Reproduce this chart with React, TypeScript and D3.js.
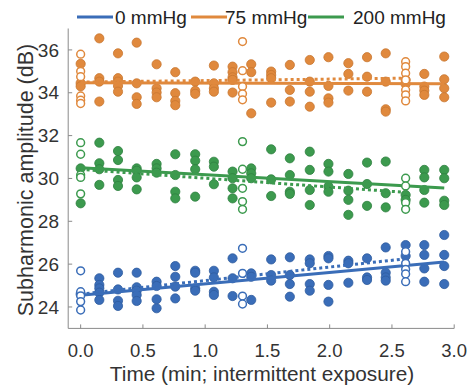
import React from 'react'
import * as d3 from 'd3'

// column times (min) for the filled points and the open (rest) points
const filledTimes = [0, 0.15, 0.3, 0.45, 0.61, 0.76, 0.92, 1.07, 1.22, 1.37, 1.53, 1.68, 1.84, 1.99, 2.15, 2.3, 2.45, 2.61, 2.76, 2.92]
const openTimes = [0, 1.3, 2.61]

const seriesNames = ['0 mmHg', '75 mmHg', '200 mmHg']
const seriesColors = ['#3a6db8', '#e0893d', '#3c9a4e']
const seriesEdges = ['#2f5c9e', '#c87630', '#2f8040']

const filled0 = [
  [24.6],
  [25.34, 25.03, 24.87, 24.67, 24.33],
  [25.6, 24.82, 24.29, 24.05],
  [25.6, 24.92, 24.76, 24.56, 24.28],
  [25.18, 24.98, 24.36, 23.94],
  [25.91, 25.41, 24.95, 24.4],
  [25.69, 25.6, 24.87, 24.76],
  [25.69, 25.38, 24.71, 24.56],
  [26.27, 25.34, 24.51],
  [25.57, 25.41, 24.33],
  [26.22, 25.49, 25.23],
  [26.32, 25.49, 25.07, 24.48],
  [26.22, 26.04, 25.07, 24.76],
  [26.38, 26.27, 25.03, 24.25],
  [26.16, 26.04, 25.13],
  [26.27, 25.38, 25.26],
  [26.78, 25.6, 25.38, 25.23],
  [26.89, 26.38],
  [26.89, 26.43, 25.8, 25.18],
  [27.36, 26.43, 25.91, 25.07],
]
const open0 = [
  [25.69, 24.71, 24.52, 24.25, 23.86],
  [26.74, 25.57, 24.51, 24.14],
  [26.58, 26.04, 25.76, 25.54, 25.18],
]

const filled75 = [
  [35.35, 34.45, 34.3],
  [36.54, 34.68, 34.52, 33.59],
  [35.84, 34.68, 34.52, 34.32, 34.05],
  [36.34, 34.44, 33.79, 33.48],
  [35.33, 34.21, 34.01, 33.79],
  [34.96, 33.98, 33.62, 33.42],
  [34.52, 34.09, 33.95],
  [35.27, 34.44, 34.21, 34.05],
  [35.22, 34.96, 34.72, 34.6, 34.01],
  [35.33, 34.96, 33.04],
  [34.99, 34.83, 34.68, 33.54],
  [35.3, 34.13, 33.59],
  [35.53, 34.52, 34.05, 33.35],
  [35.66, 34.32, 33.74, 33.54],
  [35.38, 34.88, 34.1],
  [35.66, 34.75, 34.05],
  [35.84, 34.52, 33.23, 33.12],
  [34.41, 34.6],
  [34.88, 34.29, 34.1, 33.9],
  [35.69, 34.63, 34.21, 33.79],
]
const open75 = [
  [35.8, 35.0, 34.75, 33.85, 33.65, 33.5],
  [36.39, 35.03, 34.29, 33.95, 33.67],
  [35.45, 35.22, 34.91, 34.6, 34.13, 33.9, 33.62],
]

const filled200 = [
  [30.47, 28.84],
  [31.67, 30.71, 30.43, 29.7],
  [31.28, 30.86, 29.93, 29.65],
  [30.47, 30.36, 30.05, 29.49],
  [30.68, 30.47, 30.27],
  [31.13, 30.16, 29.38, 29.07],
  [31.13, 30.83, 30.43, 29.15],
  [30.78, 30.55, 29.73],
  [30.32, 30.01, 29.54, 29.07],
  [30.47, 30.24, 30.01],
  [31.36, 29.96, 29.18],
  [30.94, 30.16, 29.38, 29.28],
  [31.25, 30.4, 29.46, 28.76],
  [30.68, 30.32, 29.62, 29.38],
  [30.21, 29.43, 29.0, 28.3],
  [30.74, 29.74, 28.72],
  [30.79, 29.31, 28.65],
  [29.23, 29.0],
  [30.4, 30.05, 29.46, 28.87],
  [30.4, 30.01, 28.96, 28.76],
]
const open200 = [
  [31.67, 31.13, 30.16, 30.05, 29.28],
  [31.72, 30.43, 29.54, 28.92, 28.56],
  [30.01, 29.65, 28.87, 28.56],
]

// fit lines: [start, end] values; solid spans filled times, dotted spans open times
const solidFits = [[24.55, 26.1], [34.47, 34.42], [30.5, 29.55]]
const dottedFits = [[24.6, 26.25], [34.5, 34.68], [30.42, 29.35]]

const xTicks = [0, 0.5, 1, 1.5, 2, 2.5, 3]
const yTicks = [24, 26, 28, 30, 32, 34, 36]

const filledAll = [filled0, filled75, filled200]
const openAll = [open0, open75, open200]

const FONT = '"Liberation Sans", Arial, sans-serif'

export default function App() {
  const width = 471
  const height = 392
  const x = d3.scaleLinear().domain([-0.1, 3.0]).range([68.2, 454.2])
  const y = d3.scaleLinear().domain([23, 37]).range([328.4, 28.5])
  const axisColor = '#8a8a8a'
  const textColor = '#333'

  const line = d3
    .line<[number, number]>()
    .x(d => x(d[0]))
    .y(d => y(d[1]))

  const tMin = filledTimes[0]
  const tMax = filledTimes[filledTimes.length - 1]
  const oMin = openTimes[0]
  const oMax = openTimes[openTimes.length - 1]

  const legendLineX = [77, 191, 308]
  const legendTextX = [115, 225, 353]

  return (
    <div style={{ position: 'absolute', left: 0, top: 0 }}>
      <svg width={width} height={height} style={{ display: 'block', background: '#fff' }}>
        {/* axes */}
        <line x1={x(-0.1)} x2={x(-0.1)} y1={y(37)} y2={y(23)} stroke={axisColor} strokeWidth={1} />
        <line x1={x(-0.1)} x2={x(3)} y1={y(23)} y2={y(23)} stroke={axisColor} strokeWidth={1} />
        {yTicks.map(t => (
          <g key={'y' + t}>
            <line x1={x(-0.1)} x2={x(-0.1) + 4} y1={y(t)} y2={y(t)} stroke={axisColor} />
            <text x={59} y={y(t)} dy="0.35em" textAnchor="end" fontSize={19} fontFamily={FONT} fill={textColor}>
              {t}
            </text>
          </g>
        ))}
        {xTicks.map(t => (
          <g key={'x' + t}>
            <line x1={x(t)} x2={x(t)} y1={y(23)} y2={y(23) - 4} stroke={axisColor} />
            <text x={x(t)} y={357} textAnchor="middle" fontSize={18.5} fontFamily={FONT} fill={textColor}>
              {d3.format('.1f')(t)}
            </text>
          </g>
        ))}
        <text x={262} y={381} textAnchor="middle" fontSize={20.8} fontFamily={FONT} fill={textColor}>
          Time (min; intermittent exposure)
        </text>
        <text
          transform={`translate(33, 180) rotate(-90)`}
          textAnchor="middle"
          fontSize={21.5}
          fontFamily={FONT}
          fill={textColor}
        >
          Subharmonic amplitude (dB)
        </text>

        {/* filled points */}
        {filledAll.map((cols, si) =>
          cols.map((vals, ci) =>
            vals.map((v, k) => (
              <circle
                key={`f${si}-${ci}-${k}`}
                cx={x(filledTimes[ci])}
                cy={y(v)}
                r={4.6}
                fill={seriesColors[si]}
                stroke={seriesEdges[si]}
                strokeWidth={0.8}
              />
            ))
          )
        )}

        {/* fit lines */}
        {solidFits.map((f, si) => (
          <path
            key={'s' + si}
            d={line([[tMin, f[0]], [tMax, f[1]]]) || ''}
            stroke={seriesColors[si]}
            strokeWidth={3}
            fill="none"
          />
        ))}
        {dottedFits.map((f, si) => (
          <path
            key={'d' + si}
            d={line([[oMin, f[0]], [oMax, f[1]]]) || ''}
            stroke={seriesColors[si]}
            strokeWidth={3}
            strokeDasharray="3,3"
            fill="none"
          />
        ))}

        {/* open points */}
        {openAll.map((cols, si) =>
          cols.map((vals, ci) =>
            vals.map((v, k) => (
              <circle
                key={`o${si}-${ci}-${k}`}
                cx={x(openTimes[ci])}
                cy={y(v)}
                r={3.9}
                fill="#fff"
                stroke={seriesColors[si]}
                strokeWidth={1.5}
              />
            ))
          )
        )}

        {/* legend */}
        {seriesNames.map((name, i) => (
          <g key={name}>
            <line
              x1={legendLineX[i]}
              x2={legendLineX[i] + 36}
              y1={17}
              y2={17}
              stroke={seriesColors[i]}
              strokeWidth={3}
            />
            <text x={legendTextX[i]} y={17} dy="0.35em" fontSize={19} fontFamily={FONT} fill="#222">
              {name}
            </text>
          </g>
        ))}
      </svg>
    </div>
  )
}
